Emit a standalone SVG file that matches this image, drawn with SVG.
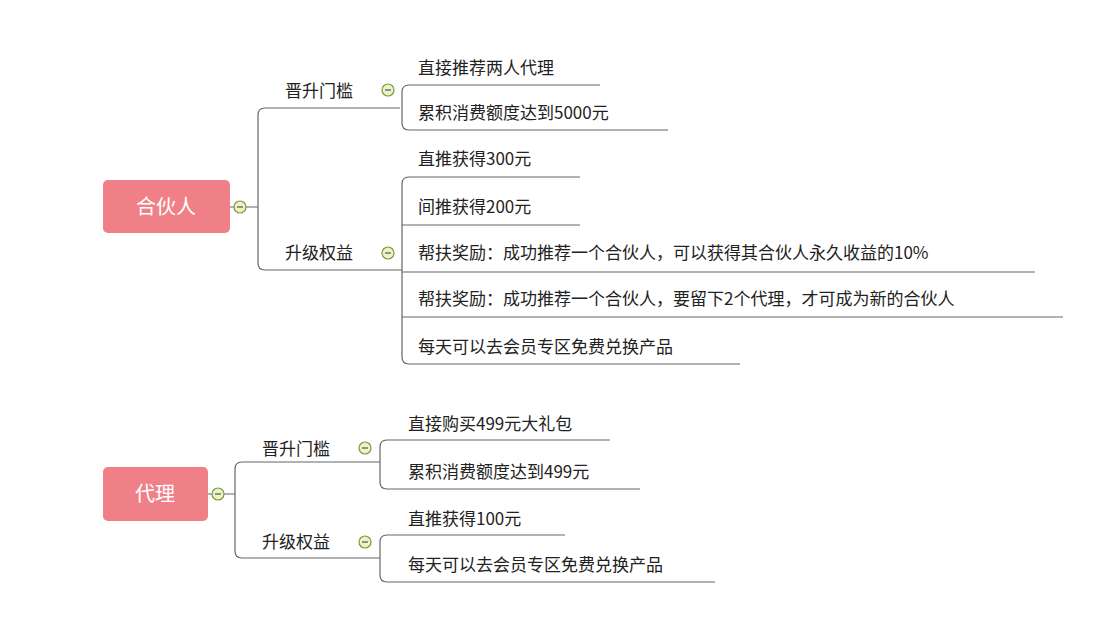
<svg xmlns="http://www.w3.org/2000/svg" width="1108" height="642" viewBox="0 0 1108 642">
<style>
text{font-family:"Noto Sans CJK SC","Liberation Sans",sans-serif;font-size:17px;fill:#222}
.root{fill:#f08088}
.rt{fill:#fff;font-size:20px;text-anchor:middle}
.ln{fill:none;stroke:#666;stroke-width:1.2}
.c{fill:#eaf3c8;stroke:#7a9a3a;stroke-width:1.2}
.cm{stroke:#555;stroke-width:1.2}
</style>
<rect width="1108" height="642" fill="#fff"/>
<g id="connectors">
<path class="ln" d="M230,207 H258 M400,108 H265 Q258,108 258,115 V263 Q258,270 265,270 H402"/>
<path class="ln" d="M600,85 H409 Q402,85 402,92 V123 Q402,130 409,130 H668"/>
<path class="ln" d="M580,177 H409 Q402,177 402,184 V357 Q402,364 409,364 H740 M402,225 H580 M402,272 H1035 M402,317 H1063"/>
<path class="ln" d="M208,494 H235 M380,462 H242 Q235,462 235,469 V551 Q235,558 242,558 H380"/>
<path class="ln" d="M610,440 H387 Q380,440 380,447 V482 Q380,489 387,489 H640"/>
<path class="ln" d="M565,535 H387 Q380,535 380,542 V575 Q380,582 387,582 H715"/>
</g>
<g id="partner"><rect class="root" x="103" y="180" width="127" height="53" rx="5"/><text class="rt" x="166" y="214">合伙人</text><circle class="c" cx="240" cy="207" r="6"/><line class="cm" x1="237" y1="207" x2="243" y2="207"/></g>
<g id="p-threshold"><text x="285" y="97">晋升门槛</text><circle class="c" cx="388" cy="90" r="6"/><line class="cm" x1="385" y1="90" x2="391" y2="90"/></g>
<g id="p-t1"><text x="418" y="74">直接推荐两人代理</text></g>
<g id="p-t2"><text x="418" y="119">累积消费额度达到5000元</text></g>
<g id="p-rights"><text x="285" y="259">升级权益</text><circle class="c" cx="388" cy="253" r="6"/><line class="cm" x1="385" y1="253" x2="391" y2="253"/></g>
<g id="p-r1"><text x="418" y="165">直推获得300元</text></g>
<g id="p-r2"><text x="418" y="213">间推获得200元</text></g>
<g id="p-r3"><text x="418" y="259">帮扶奖励：成功推荐一个合伙人，可以获得其合伙人永久收益的10%</text></g>
<g id="p-r4"><text x="418" y="305">帮扶奖励：成功推荐一个合伙人，要留下2个代理，才可成为新的合伙人</text></g>
<g id="p-r5"><text x="418" y="353">每天可以去会员专区免费兑换产品</text></g>
<g id="agent"><rect class="root" x="103" y="467" width="105" height="54" rx="5"/><text class="rt" x="155" y="501">代理</text><circle class="c" cx="218" cy="494" r="6"/><line class="cm" x1="215" y1="494" x2="221" y2="494"/></g>
<g id="a-threshold"><text x="262" y="455">晋升门槛</text><circle class="c" cx="365" cy="448" r="6"/><line class="cm" x1="362" y1="448" x2="368" y2="448"/></g>
<g id="a-t1"><text x="408" y="430">直接购买499元大礼包</text></g>
<g id="a-t2"><text x="408" y="478">累积消费额度达到499元</text></g>
<g id="a-rights"><text x="262" y="548">升级权益</text><circle class="c" cx="365" cy="542" r="6"/><line class="cm" x1="362" y1="542" x2="368" y2="542"/></g>
<g id="a-r1"><text x="408" y="525">直推获得100元</text></g>
<g id="a-r2"><text x="408" y="571">每天可以去会员专区免费兑换产品</text></g>
</svg>
